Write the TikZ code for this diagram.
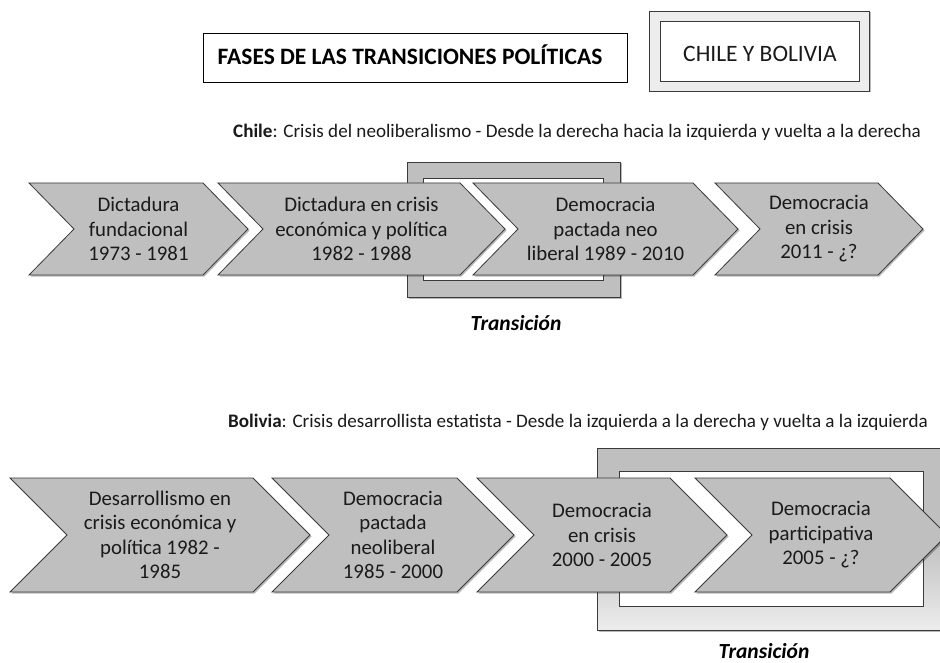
\documentclass[tikz,border=0pt]{standalone}
\usepackage{fontspec}
\setmainfont{Carlito}
\definecolor{chevfill}{HTML}{BFBFBF}
\definecolor{chevline}{HTML}{3A3A3A}
\definecolor{txt}{HTML}{1A1A1A}
\definecolor{framefill}{HTML}{BFBFBF}
\definecolor{boxfill}{HTML}{EDEDED}
\tikzset{
  shadowpath/.style={fill=black, opacity=0.28, draw=none},
  chevshape/.style={fill=chevfill, draw=chevline, line width=0.8pt, line join=miter},
  chevtext/.style={align=center, text=txt, font=\fontsize{20.8}{24.5}\selectfont, inner sep=0pt},
  frameout/.style={fill=framefill, draw=chevline, line width=0.8pt},
  framein/.style={fill=white, draw=chevline, line width=0.8pt},
  subtitle/.style={text=txt, font=\fontsize{19.1}{22}\selectfont, inner sep=0pt},
  translabel/.style={text=black, font=\fontsize{21.5}{24}\selectfont\bfseries\itshape, inner sep=0pt}
}
\newcommand\chevron[7]{%
  \path[shadowpath] ({#2+1.5},{#4+1.5}) -- ({#3+1.5},{#4+1.5}) -- ({#3+#6+1.5},{(#4+#5)/2+1.5}) -- ({#3+1.5},{#5+1.5}) -- ({#2+1.5},{#5+1.5}) -- ({#2+#6+1.5},{(#4+#5)/2+1.5}) -- cycle;
  \path[chevshape] (#2,#4) -- (#3,#4) -- ({#3+#6},{(#4+#5)/2}) -- (#3,#5) -- (#2,#5) -- ({#2+#6},{(#4+#5)/2}) -- cycle;
  \node[chevtext] (#1) at ({(#2+#6+#3)/2},{(#4+#5)/2}) {#7};
}
\begin{document}
\begin{tikzpicture}[x=1pt,y=-1pt]
\useasboundingbox (0,0) rectangle (940,663);
% title boxes
\draw[fill=white, draw=black, line width=0.8pt] (203,33) rectangle (627,82);
\node[anchor=base, font=\fontsize{23.5}{26}\selectfont\bfseries, text=black, inner sep=0pt] (title) at (410,65) {FASES DE LAS TRANSICIONES POLÍTICAS};
\path[shadowpath] (650.5,12.5) rectangle (870.5,92.5);
\path[fill=boxfill, draw=chevline, line width=0.8pt] (649,11) rectangle (869,91);
\draw[fill=white, draw=chevline, line width=0.8pt] (660,21) rectangle (859,81);
\node[anchor=base, font=\fontsize{23.5}{26}\selectfont, text=txt, inner sep=0pt] (countries) at (760,62) {CHILE Y BOLIVIA};
% Chile
\node[subtitle] (chilesub) at (577,132) {\textbf{Chile}: Crisis del neoliberalismo - Desde la derecha hacia la izquierda y vuelta a la derecha};
\path[shadowpath] (408.5,163.5) rectangle (621.5,298.5);
\path[frameout] (407,162) rectangle (620,297);
\draw[framein] (423,178) rectangle (603,280);
\chevron{c1}{29}{203}{183}{275}{45}{Dictadura\\fundacional\\1973 - 1981}
\chevron{c2}{218}{460}{183}{275}{45}{Dictadura en crisis\\económica y política\\1982 - 1988}
\chevron{c3}{473}{693}{183}{275}{45}{Democracia\\pactada neo\\liberal 1989 - 2010}
\chevron{c4}{715}{878}{183}{275}{45}{Democracia\\en crisis\\2011 - ¿?}
\node[translabel] (chiletrans) at (516,323) {Transición};
% Bolivia
\node[subtitle] (bolsub) at (578,422) {\textbf{Bolivia}: Crisis desarrollista estatista - Desde la izquierda a la derecha y vuelta a la izquierda};
\path[shadowpath] (598.5,449.5) rectangle (953.5,631.5);
\path[frameout, top color=framefill, bottom color=boxfill, middle color=framefill] (597,448) rectangle (952,630);
\draw[chevline, line width=0.8pt] (597,448) rectangle (952,630);
\draw[framein] (619,471) rectangle (923,606);
\chevron{b1}{10}{253}{478}{592}{57}{Desarrollismo en\\crisis económica y\\política 1982 -\\1985}
\chevron{b2}{272}{457}{478}{592}{57}{Democracia\\pactada\\neoliberal\\1985 - 2000}
\chevron{b3}{477}{670}{478}{592}{57}{Democracia\\en crisis\\2000 - 2005}
\chevron{b4}{695}{890}{478}{592}{57}{Democracia\\participativa\\2005 - ¿?}
\node[translabel] (boltrans) at (764,651) {Transición};
\end{tikzpicture}
\end{document}
